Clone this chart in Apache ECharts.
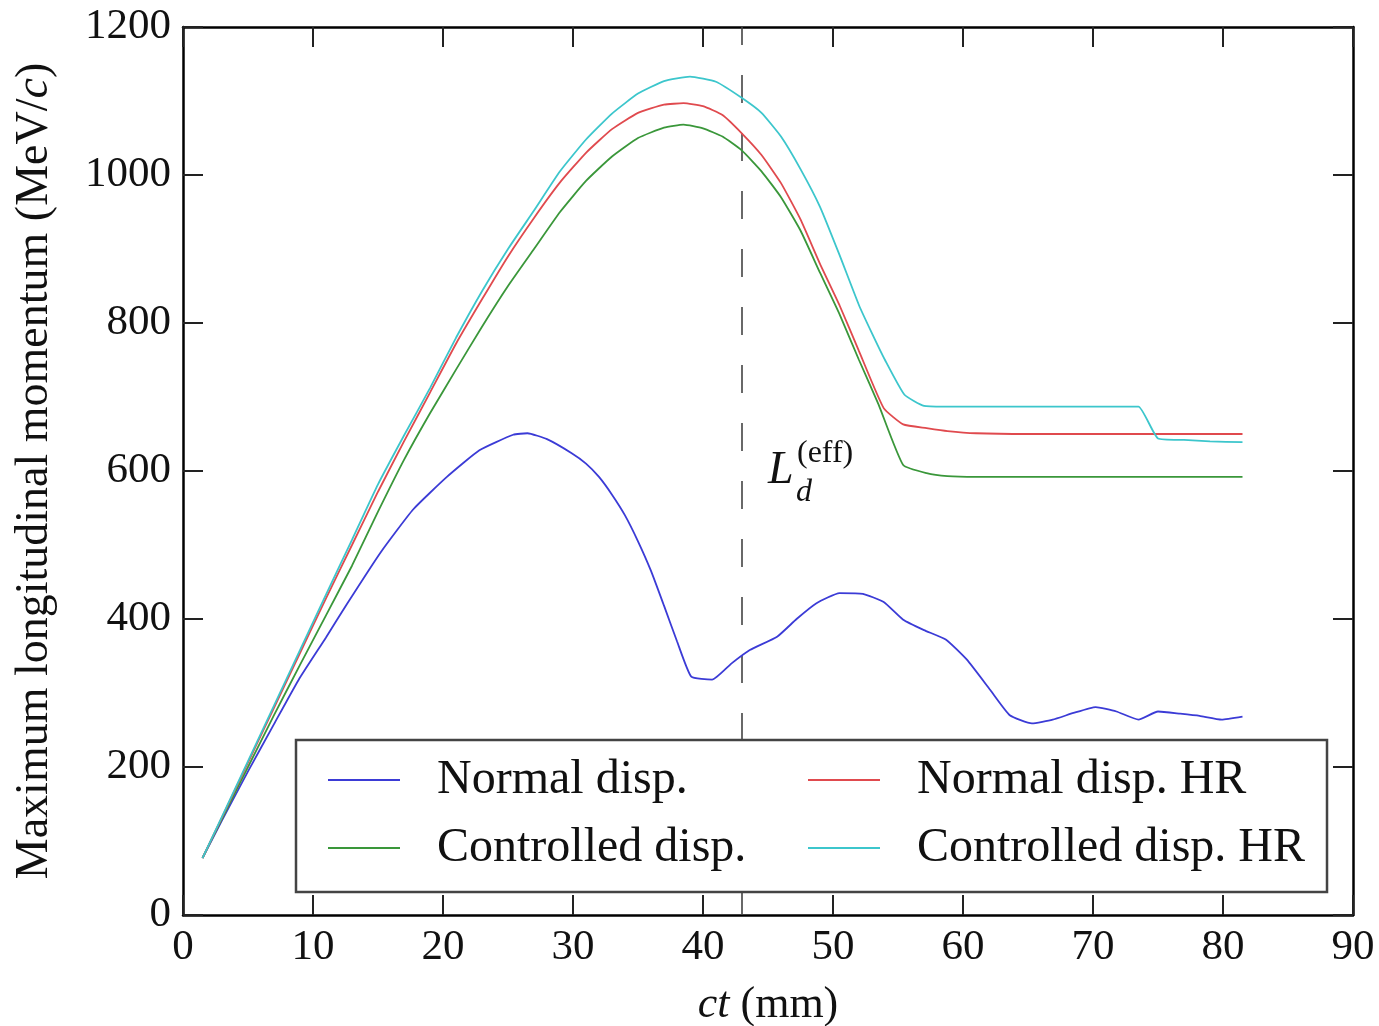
<!DOCTYPE html>
<html>
<head>
<meta charset="utf-8">
<script src="https://cdn.jsdelivr.net/npm/echarts@6/dist/echarts.min.js"></script>
<style>html,body{margin:0;padding:0;background:#fff}#c{width:1379px;height:1026px}</style>
</head>
<body>
<div id="c"></div>
<script>
// ---- data ----
const blueCt = [1.5,3,5,7,8.9,11,12.6,15.2,17.7,20.3,22.8,25.4,26.5,28,29.9,31,32,33,34,35,36,37,38,39.1,40.7,42.2,43.6,45.7,47.2,48.7,50.5,52.3,53.9,55.4,57,58.7,60.3,62.1,63.6,65.3,66.9,68.5,70.2,71.8,73.5,75,76.7,78.2,79.9,81.5];
const blueP  = [77,128,194,258,318,375,420,490,548,592,628,649,651,643,624,610,592,568,540,505,465,418,370,322,318,340,358,376,400,421,435,434,423,399,385,372,345,304,270,259,264,273,281,275,264,275,272,269,264,268];

const redCt = [1.5,3,5,7,9,11,13,15,17,19,21,23,25,27,29,31,33,35,37,38.5,40,41.5,43,44.5,46,47.5,49,50.5,52,53.9,55.4,57.2,58.8,61,65,70,75,81.5];
const redP  = [77,132,206,280,354,428,500,572,640,706,772,832,890,942,990,1030,1062,1084,1095,1097,1093,1081,1056,1027,989,940,880,824,762,685,663,658,654,651,650,650,650,650];

const greenCt = [1.5,3,5,7,9,11,13,15,17,19,21,23,25,27,29,31,33,35,37,38.5,40,41.5,43,44.5,46,47.5,49,50.5,52,53.5,55.4,57.2,58.8,61,65,70,75,81.5];
const greenP  = [77,130,200,270,338,405,472,545,615,678,737,795,850,900,950,992,1025,1050,1064,1068,1063,1052,1033,1005,970,925,868,812,750,690,608,597,593,592,592,592,592,592];

const cyanCt = [1.5,3,5,7,9,11,13,15,17,19,21,23,25,27,29,31,33,35,37,39,41,43,44.5,46,47.5,49,50.5,52,53,54,55.5,57,58.5,60,63,66,69,72,73.5,75,77,79,81.5];
const cyanP  = [77,133,208,283,358,433,507,582,648,712,780,843,900,952,1005,1048,1083,1110,1127,1133,1126,1104,1084,1052,1008,957,892,824,786,750,703,688,687,687,687,687,687,687,687,644,642,640,639];

const seriesNames = ['Normal disp.', 'Controlled disp.', 'Normal disp. HR', 'Controlled disp. HR'];
const xTicks = {min: 0, max: 90, interval: 10};
const yTicks = {min: 0, max: 1200, interval: 200};
const dashedCt = 43;
const annotAnchor = [45, 600];

const zip = (a, b) => a.map((v, i) => [v, b[i]]);
const FONT = 'Liberation Serif';

const chart = echarts.init(document.getElementById('c'), null, {renderer: 'canvas'});

const axisCommon = {
  type: 'value',
  axisLine: {show: true, onZero: false, lineStyle: {color: '#000', width: 2.5}},
  axisTick: {show: true, inside: true, length: 20, lineStyle: {color: '#222', width: 2}},
  splitLine: {show: false}
};

const lineSeries = (name, xs, ys, color, extra) => Object.assign({
  name, type: 'line', data: zip(xs, ys), showSymbol: false,
  smooth: 0.15,
  lineStyle: {color, width: 1.8}, itemStyle: {color}, z: 3
}, extra || {});

const option = {
  animation: false,
  backgroundColor: '#fff',
  grid: {left: 183, right: 26, top: 27, bottom: 111, containLabel: false, outerBoundsMode: 'none'},
  xAxis: [
    Object.assign({}, axisCommon, {
      position: 'bottom', min: xTicks.min, max: xTicks.max, interval: xTicks.interval,
      axisLabel: {fontFamily: FONT, fontSize: 43, color: '#111', margin: 11, formatter: v => String(v)},
      name: '{i|ct} (mm)', nameLocation: 'middle', nameGap: 68,
      nameTextStyle: {fontFamily: FONT, fontSize: 44, color: '#111',
        rich: {i: {fontFamily: FONT, fontSize: 44, fontStyle: 'italic', color: '#111'}}}
    }),
    Object.assign({}, axisCommon, {
      position: 'top', min: xTicks.min, max: xTicks.max, interval: xTicks.interval,
      axisLabel: {show: false}
    })
  ],
  yAxis: [
    Object.assign({}, axisCommon, {
      position: 'left', min: yTicks.min, max: yTicks.max, interval: yTicks.interval,
      axisLabel: {fontFamily: FONT, fontSize: 43, color: '#111', margin: 12, formatter: v => String(v)},
      name: 'Maximum longitudinal momentum (MeV/{i|c})', nameLocation: 'middle', nameGap: 125,
      nameTextStyle: {fontFamily: FONT, fontSize: 46, color: '#111',
        rich: {i: {fontFamily: FONT, fontSize: 46, fontStyle: 'italic', color: '#111'}}}
    }),
    Object.assign({}, axisCommon, {
      position: 'right', min: yTicks.min, max: yTicks.max, interval: yTicks.interval,
      axisLabel: {show: false}
    })
  ],
  legend: {
    orient: 'vertical', z: 20,
    left: 296, top: 740, height: 150,
    data: [seriesNames[0], seriesNames[1], seriesNames[2], seriesNames[3]],
    icon: 'rect', itemWidth: 72, itemHeight: 2, itemGap: 20,
    padding: [16, 22, 20, 32],
    backgroundColor: '#fff', borderColor: '#444', borderWidth: 2.5, borderRadius: 0,
    textStyle: {fontFamily: FONT, fontSize: 48, color: '#111', lineHeight: 47, width: 351, padding: [0, 0, 0, 32]}
  },
  series: [
    lineSeries(seriesNames[0], blueCt, blueP, '#3b3bd6', {
      markLine: {silent: true, symbol: ['none', 'none'], label: {show: false}, z: 1,
        lineStyle: {type: [28, 30], color: '#444', width: 1.6}, data: [{xAxis: dashedCt}]}}),
    lineSeries(seriesNames[1], greenCt, greenP, '#3a973a'),
    lineSeries(seriesNames[2], redCt, redP, '#e04a4e'),
    lineSeries(seriesNames[3], cyanCt, cyanP, '#3cc6cc')
  ]
};
chart.setOption(option);

const a = chart.convertToPixel({gridIndex: 0}, annotAnchor);
chart.setOption({
  graphic: [
    {type: 'text', x: a[0], y: a[1], style: {text: 'L', fontFamily: FONT, fontSize: 46, fontStyle: 'italic', fill: '#111', align: 'left', verticalAlign: 'middle'}},
    {type: 'text', x: a[0] + 28, y: a[1] + 22, style: {text: 'd', fontFamily: FONT, fontSize: 32, fontStyle: 'italic', fill: '#111', align: 'left', verticalAlign: 'middle'}},
    {type: 'text', x: a[0] + 29, y: a[1] - 17, style: {text: '(eff)', fontFamily: FONT, fontSize: 32, fill: '#111', align: 'left', verticalAlign: 'middle'}}
  ]
});
</script>
</body>
</html>
